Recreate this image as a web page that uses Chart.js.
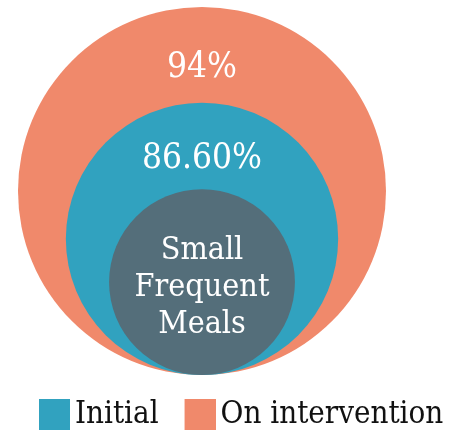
<!DOCTYPE html>
<html>
<head>
<meta charset="utf-8">
<script src="https://cdn.jsdelivr.net/npm/chart.js@4"></script>
<style>
  body { margin: 0; background: #ffffff; }
</style>
</head>
<body>
<canvas id="grafCirculos" width="459" height="433"></canvas>
<script>
const grafCirculos = document.getElementById('grafCirculos')

// circulos de dentro para fora
let vetNomes = ['Small Frequent Meals', 'Initial', 'On intervention']
let vetTamanho = [50.5, 74, 100]   // tamanho relativo de cada circulo
let vetRotulos = ['', '86.60%', '94%']
let vetLinhas = ['Small', 'Frequent', 'Meals']
let vetCores = ['#546E7A', '#31A2BF', '#F0896B']

const fonte = "'DejaVu Serif Condensed', 'DejaVu Serif', serif"

Chart.defaults.font.family = fonte
Chart.defaults.color = '#111111'

// quadradinho da legenda (deslocado para a direita dentro da imagem)
function quadrado(cor) {
    const c = document.createElement('canvas')
    c.width = 65
    c.height = 31
    const g = c.getContext('2d')
    g.fillStyle = cor
    g.fillRect(34, 0, 31, 31)
    return c
}

const rotulos = {
    id: 'rotulos',
    afterDatasetsDraw(chart) {
        const c = chart.ctx
        const el = vetTamanho.map((t, i) => chart.getDatasetMeta(i).data[0])
        const topo = el.map(e => e.y - e.options.radius)
        c.save()
        c.fillStyle = '#ffffff'
        c.textAlign = 'center'
        c.textBaseline = 'middle'
        c.font = `35px ${fonte}`
        for (let i = 1; i < el.length; i++) {
            c.fillText(vetRotulos[i], el[i].x, (topo[i] + topo[i - 1]) / 2 + 13)
        }
        c.font = `32px ${fonte}`
        vetLinhas.forEach((l, k) => {
            c.fillText(l, el[0].x, el[0].y + 6 + (k - 1) * 37)
        })
        c.restore()
    }
}

const graf = new Chart(grafCirculos, {
    type: 'bubble',
    data: {
        datasets: vetNomes.map((nome, i) => ({
            label: nome,
            data: [{ x: 0, y: vetTamanho[i], r: 0 }],
            backgroundColor: vetCores[i],
            borderWidth: 0,
            hoverRadius: 0,
            clip: false
        }))
    },
    options: {
        responsive: false,
        devicePixelRatio: 1,
        animation: false,
        events: [],
        layout: {
            autoPadding: false,
            padding: { top: 7, left: 13, right: 0, bottom: -7 }
        },
        scales: {
            x: { display: false, min: -189, max: 257 },
            y: { display: false, min: -11.68, max: 200 }
        },
        plugins: {
            tooltip: { enabled: false },
            legend: {
                position: 'bottom',
                align: 'start',
                labels: {
                    usePointStyle: true,
                    pointStyleWidth: 44,
                    boxHeight: 31,
                    padding: 2.5,
                    color: '#111111',
                    font: { size: 31, family: fonte },
                    generateLabels: chart => Chart.defaults.plugins.legend.labels.generateLabels(chart)
                        .filter(item => item.datasetIndex > 0)
                        .map(item => {
                            item.pointStyle = quadrado(vetCores[item.datasetIndex])
                            return item
                        })
                }
            }
        }
    },
    plugins: [rotulos]
})

// raio em pixels tirado da escala y (circulos encostados em y = 0)
const escY = graf.scales.y
graf.data.datasets.forEach((ds, i) => {
    ds.data[0].r = escY.getPixelForValue(0) - escY.getPixelForValue(vetTamanho[i])
})
graf.update()
</script>
</body>
</html>
